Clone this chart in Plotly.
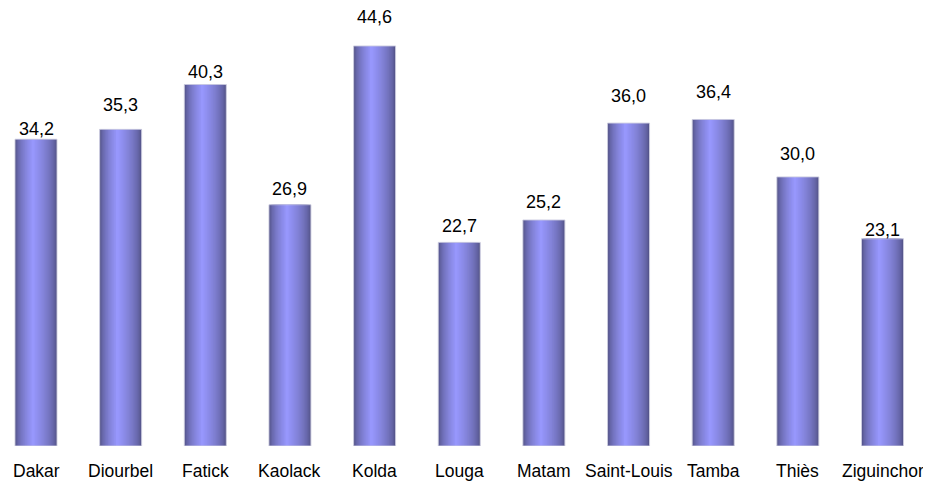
import plotly.graph_objects as go

regions = ["Dakar", "Diourbel", "Fatick", "Kaolack", "Kolda", "Louga", "Matam",
           "Saint-Louis", "Tamba", "Thiès", "Ziguinchor"]
values = [34.2, 35.3, 40.3, 26.9, 44.6, 22.7, 25.2, 36.0, 36.4, 30.0, 23.1]
label_shift = [-2, 12, 1, 4, 17, 4, 6, 15, 15, 11, -3]

FONT = "Liberation Sans, Arial"
W = 0.496         # bar width (category units)
P = -0.035        # bright highlight position relative to category centre
N = 24            # gradient layers
dark = (80, 80, 130)
light = (153, 153, 255)

# page body has an 8px margin: figure is sized / placed to compensate
FIG_W, FIG_H = 923, 475
PX_PER_CAT = 84.65
FIRST_CENTER = 28        # px from figure left
PLOT_H = 438             # px from figure top to zero line
PX_PER_UNIT = 8.97

fig = go.Figure()
for k in range(N):
    t = k / N
    L = -W / 2 + t * (P + W / 2)
    R = W / 2 - t * (W / 2 - P)
    s = t ** 0.6
    col = tuple(round(dark[i] + (light[i] - dark[i]) * s) for i in range(3))
    fig.add_trace(go.Bar(
        x=regions, y=values, width=R - L, offset=L,
        marker=dict(color="rgb(%d,%d,%d)" % col, line=dict(width=0)),
        hoverinfo="skip" if k else "x+y", showlegend=False,
    ))
# thin light outline
fig.add_trace(go.Bar(
    x=regions, y=values, width=W, offset=-W / 2,
    marker=dict(color="rgba(0,0,0,0)", line=dict(width=1, color="rgba(205,205,225,0.9)")),
    hoverinfo="skip", showlegend=False,
))

for r, v, sh in zip(regions, values, label_shift):
    fig.add_annotation(x=r, y=v, text=f"{v:.1f}".replace(".", ","),
                       showarrow=False, yanchor="bottom", yshift=sh,
                       font=dict(family=FONT, size=18, color="#000"))
for r in regions:
    fig.add_annotation(x=r, y=0, text=r, showarrow=False, yanchor="top",
                       yshift=-13, font=dict(family=FONT, size=17.5, color="#000"))

x0 = -FIRST_CENTER / PX_PER_CAT
fig.update_layout(
    width=FIG_W, height=FIG_H, barmode="overlay",
    margin=dict(l=0, r=0, t=0, b=FIG_H - PLOT_H, autoexpand=False),
    plot_bgcolor="white", paper_bgcolor="white",
    xaxis=dict(showgrid=False, showline=False, ticks="", showticklabels=False,
               range=[x0, x0 + FIG_W / PX_PER_CAT], automargin=False),
    yaxis=dict(visible=False, range=[0, PLOT_H / PX_PER_UNIT], automargin=False),
)
fig.write_html("out.html")
